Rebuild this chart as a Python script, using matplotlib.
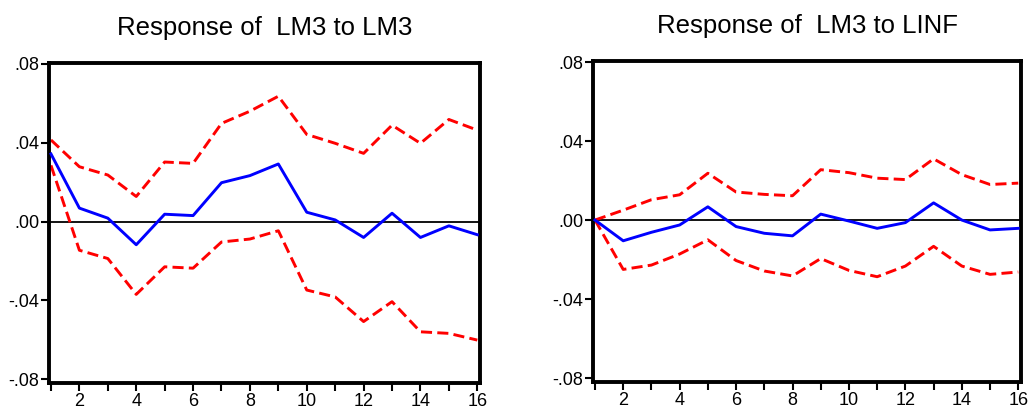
import numpy as np
import matplotlib.pyplot as plt
from matplotlib.ticker import FuncFormatter

plt.rcParams['font.family'] = ['Liberation Sans', 'DejaVu Sans']

periods = np.arange(1, 17)

# Response of LM3 to LM3
lm3_resp = [0.0343, 0.0068, 0.0017, -0.0118, 0.0037, 0.0030, 0.0197, 0.0233,
            0.0292, 0.0047, 0.0008, -0.0081, 0.0042, -0.0081, -0.0022, -0.0067]
lm3_upper = [0.0414, 0.0278, 0.0236, 0.0127, 0.0302, 0.0295, 0.0498, 0.0560,
             0.0636, 0.0442, 0.0397, 0.0346, 0.0489, 0.0397, 0.0518, 0.0464]
lm3_lower = [0.0285, -0.0146, -0.0188, -0.0370, -0.0230, -0.0237, -0.0104, -0.0089,
             -0.0047, -0.0348, -0.0383, -0.0508, -0.0407, -0.0560, -0.0568, -0.0602]

# Response of LM3 to LINF
inf_resp = [0.0, -0.0105, -0.0062, -0.0025, 0.0067, -0.0033, -0.0067, -0.0080,
            0.0030, -0.0005, -0.0042, -0.0013, 0.0087, 0.0000, -0.0050, -0.0042]
inf_upper = [0.0, 0.0050, 0.0103, 0.0128, 0.0237, 0.0142, 0.0130, 0.0123,
             0.0255, 0.0240, 0.0212, 0.0205, 0.0310, 0.0230, 0.0180, 0.0187]
inf_lower = [0.0, -0.0250, -0.0228, -0.0172, -0.0100, -0.0205, -0.0258, -0.0283,
             -0.0195, -0.0255, -0.0287, -0.0233, -0.0133, -0.0233, -0.0275, -0.0263]

titles = ['Response of  LM3 to LM3', 'Response of  LM3 to LINF']
panels = [(lm3_resp, lm3_upper, lm3_lower), (inf_resp, inf_upper, inf_lower)]
yticks = [-0.08, -0.04, 0.0, 0.04, 0.08]


def fmt(v, pos):
    s = '%.2f' % v
    return s.replace('0.', '.', 1)


fig = plt.figure(figsize=(10.29, 4.13), dpi=100)
rects = [[0.0476, 0.0726, 0.419, 0.775], [0.5763, 0.0751, 0.416, 0.777]]

for rect, title, (resp, up, lo) in zip(rects, titles, panels):
    ax = fig.add_axes(rect)
    ax.axhline(0, color='black', lw=1.3, zorder=1)
    ax.plot(periods, resp, color='#0000ff', lw=2.1, zorder=3)
    ax.plot(periods, up, color='#ff0000', lw=2.1, dashes=(3.8, 1.8), zorder=2)
    ax.plot(periods, lo, color='#ff0000', lw=2.1, dashes=(3.8, 1.8), zorder=2)
    ax.set_xlim(0.93, 16.1)
    ax.set_ylim(-0.082, 0.0805)
    ax.set_xticks(periods)
    ax.set_xticklabels([str(p) if p % 2 == 0 else '' for p in periods])
    ax.set_yticks(yticks)
    ax.yaxis.set_major_formatter(FuncFormatter(fmt))
    ax.tick_params(axis='both', direction='out', length=6, width=1.5,
                   labelsize=13, pad=1, colors='black')
    for sp in ax.spines.values():
        sp.set_linewidth(2.8)
    ax.set_title(title, fontsize=18.5, pad=20)

fig.savefig('out.png', dpi=100)
